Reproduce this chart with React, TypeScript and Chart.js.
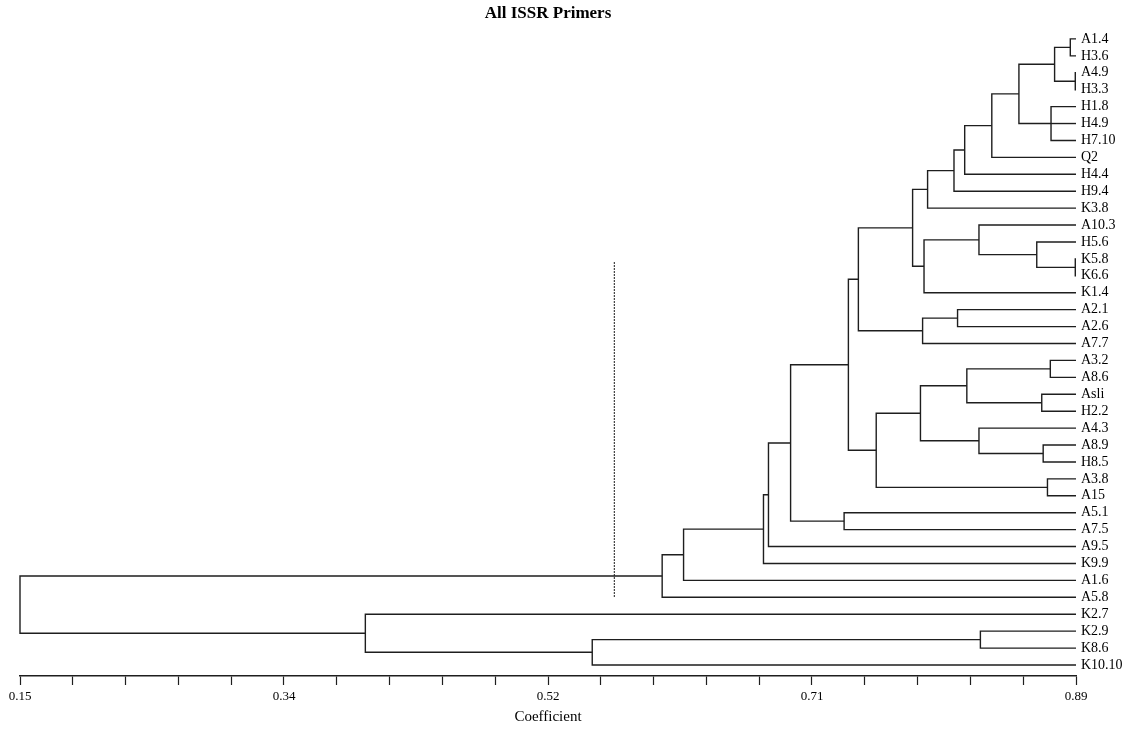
import React, { useEffect, useRef } from 'react';
import { Chart, registerables } from 'chart.js';

Chart.register(...registerables);

// Leaves of the dendrogram, top to bottom
const leafLabels = [
  'A1.4', 'H3.6', 'A4.9', 'H3.3', 'H1.8', 'H4.9', 'H7.10', 'Q2', 'H4.4', 'H9.4',
  'K3.8', 'A10.3', 'H5.6', 'K5.8', 'K6.6', 'K1.4', 'A2.1', 'A2.6', 'A7.7', 'A3.2',
  'A8.6', 'Asli', 'H2.2', 'A4.3', 'A8.9', 'H8.5', 'A3.8', 'A15', 'A5.1', 'A7.5',
  'A9.5', 'K9.9', 'A1.6', 'A5.8', 'K2.7', 'K2.9', 'K8.6', 'K10.10',
];
const leafCoefficient = 0.89;

// Clusters in order of formation (c1, c2, ...): members and joining coefficient
const clusterMembers: string[][] = [
  ['A1.4', 'H3.6'],          // c1
  ['A4.9', 'H3.3'],          // c2
  ['c1', 'c2'],              // c3
  ['H1.8', 'H4.9', 'H7.10'], // c4
  ['c3', 'c4'],              // c5
  ['c5', 'Q2'],              // c6
  ['c6', 'H4.4'],            // c7
  ['c7', 'H9.4'],            // c8
  ['c8', 'K3.8'],            // c9
  ['K5.8', 'K6.6'],          // c10
  ['H5.6', 'c10'],           // c11
  ['A10.3', 'c11'],          // c12
  ['c12', 'K1.4'],           // c13
  ['c9', 'c13'],             // c14
  ['A2.1', 'A2.6'],          // c15
  ['c15', 'A7.7'],           // c16
  ['c14', 'c16'],            // c17
  ['A3.2', 'A8.6'],          // c18
  ['Asli', 'H2.2'],          // c19
  ['c18', 'c19'],            // c20
  ['A8.9', 'H8.5'],          // c21
  ['A4.3', 'c21'],           // c22
  ['c20', 'c22'],            // c23
  ['A3.8', 'A15'],           // c24
  ['c23', 'c24'],            // c25
  ['c17', 'c25'],            // c26
  ['A5.1', 'A7.5'],          // c27
  ['c26', 'c27'],            // c28
  ['c28', 'A9.5'],           // c29
  ['c29', 'K9.9'],           // c30
  ['c30', 'A1.6'],           // c31
  ['c31', 'A5.8'],           // c32
  ['K2.9', 'K8.6'],          // c33
  ['c33', 'K10.10'],         // c34
  ['K2.7', 'c34'],           // c35
  ['c32', 'c35'],            // c36
];
const clusterCoefficients: number[] = [
  0.886, 0.8895, 0.875, 0.8725, 0.85, 0.831, 0.812, 0.8045, 0.786,
  0.8895, 0.8625, 0.822, 0.7835, 0.7755, 0.807, 0.7825, 0.7375,
  0.872, 0.866, 0.8135, 0.867, 0.822, 0.781, 0.87, 0.75, 0.7305,
  0.7275, 0.69, 0.6745, 0.671, 0.615, 0.6, 0.823, 0.551, 0.392, 0.15,
];

// Axis
const axisMin = 0.15;
const axisMax = 0.89;
const axisTickLabels = ['0.15', '0.34', '0.52', '0.71', '0.89'];
const minorPerMajor = 5;

// Dotted reference line (coefficient, leaf span)
const cutoffCoefficient = 0.5665;
const cutoffSpan = [13.2, 33.0];

const lineColor = '#1e1e1e';

function buildDatasets() {
  const pos: Record<string, { x: number; y: number }> = {};
  leafLabels.forEach((l, i) => {
    pos[l] = { x: leafCoefficient, y: i };
  });
  const sets: any[] = [];
  const base = {
    borderColor: lineColor,
    borderWidth: 1.4,
    pointRadius: 0,
    showLine: true,
    tension: 0,
    fill: false,
    clip: false,
    borderJoinStyle: 'miter',
    borderCapStyle: 'butt',
  };
  clusterMembers.forEach((members, k) => {
    const x = clusterCoefficients[k];
    const kids = members.map((id) => pos[id]);
    const ys = kids.map((p) => p.y);
    const y = (Math.min(...ys) + Math.max(...ys)) / 2;
    pos['c' + (k + 1)] = { x, y };
    const first = kids[0];
    const last = kids[kids.length - 1];
    sets.push({
      ...base,
      data: [
        { x: first.x, y: first.y },
        { x, y: first.y },
        { x, y: last.y },
        { x: last.x, y: last.y },
      ],
    });
    kids.slice(1, -1).forEach((p) => {
      sets.push({ ...base, data: [{ x, y: p.y }, { x: p.x, y: p.y }] });
    });
  });
  sets.push({
    ...base,
    borderColor: '#000',
    borderWidth: 1.2,
    borderDash: [1.5, 1.5],
    data: [
      { x: cutoffCoefficient, y: cutoffSpan[0] },
      { x: cutoffCoefficient, y: cutoffSpan[1] },
    ],
  });
  return sets;
}

export default function App() {
  const ref = useRef<HTMLCanvasElement | null>(null);
  useEffect(() => {
    document.body.style.margin = '0';
    const canvas = ref.current;
    if (!canvas) return;
    const step = (axisMax - axisMin) / ((axisTickLabels.length - 1) * minorPerMajor);
    const chart = new Chart(canvas, {
      type: 'scatter',
      data: { datasets: buildDatasets() },
      options: {
        animation: false,
        responsive: false,
        events: [],
        layout: { padding: { left: 20, right: 0, top: 0, bottom: 0 } },
        plugins: {
          legend: { display: false },
          tooltip: { enabled: false },
          title: {
            display: true,
            text: 'All ISSR Primers',
            fullSize: false,
            color: '#000',
            font: { family: 'Liberation Serif', size: 17, weight: 'bold' },
            padding: { top: 3, bottom: 3 },
          },
        },
        scales: {
          x: {
            type: 'linear',
            min: axisMin,
            max: axisMax,
            afterBuildTicks: (scale: any) => {
              const n = (axisTickLabels.length - 1) * minorPerMajor;
              scale.ticks = Array.from({ length: n + 1 }, (_, k) => ({ value: axisMin + k * step }));
            },
            afterFit: (scale: any) => {
              scale.height = 53;
            },
            grid: {
              display: true,
              drawOnChartArea: false,
              drawTicks: true,
              tickLength: 9,
              tickColor: lineColor,
              tickWidth: 1.2,
            },
            border: { display: true, color: lineColor, width: 1.5 },
            ticks: {
              autoSkip: false,
              maxRotation: 0,
              padding: 4,
              color: '#000',
              font: { family: 'Liberation Serif', size: 13 },
              callback: (_v: any, i: number) =>
                i % minorPerMajor === 0 ? axisTickLabels[i / minorPerMajor] : '',
            },
            title: {
              display: true,
              text: 'Coefficient',
              color: '#000',
              font: { family: 'Liberation Serif', size: 15 },
              padding: { top: 0, bottom: 3 },
            },
          },
          y: {
            type: 'linear',
            position: 'right',
            reverse: true,
            min: -0.74,
            max: 37.65,
            afterBuildTicks: (scale: any) => {
              scale.ticks = leafLabels.map((_, i) => ({ value: i }));
            },
            afterFit: (scale: any) => {
              scale.width = 53;
            },
            grid: { display: false, drawTicks: false, tickLength: 0 },
            border: { display: false },
            ticks: {
              autoSkip: false,
              padding: 5,
              color: '#000',
              font: { family: 'Liberation Serif', size: 14 },
              callback: (v: any) => leafLabels[Math.round(Number(v))] ?? '',
            },
          },
        },
      } as any,
    });
    return () => chart.destroy();
  }, []);
  return <canvas ref={ref} width={1129} height={729} style={{ display: 'block' }} />;
}
